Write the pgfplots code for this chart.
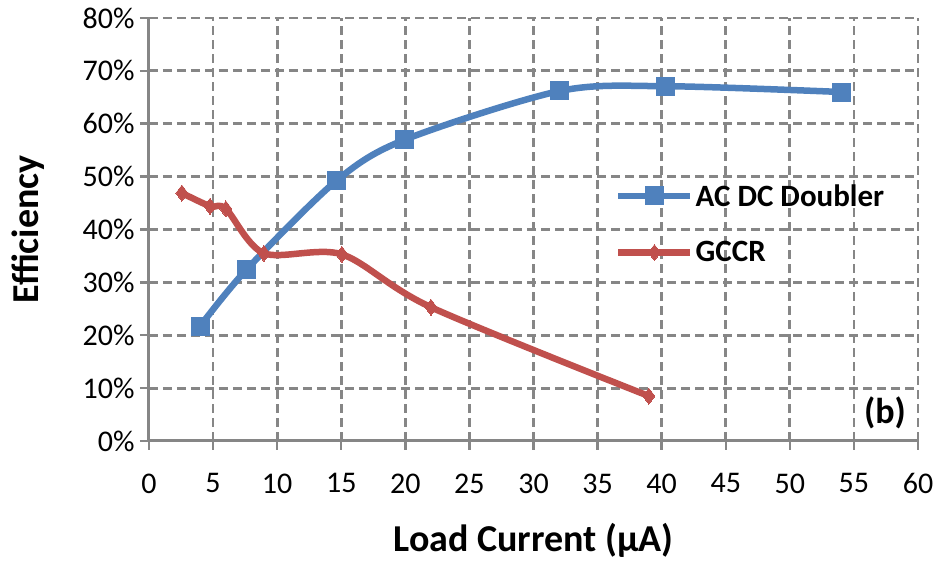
\documentclass[border=0pt]{standalone}
\usepackage{fontspec}
\setmainfont{Carlito}
\usepackage{pgfplots}
\pgfplotsset{compat=1.18}
\definecolor{exblue}{HTML}{4F81BD}
\definecolor{exred}{HTML}{C0504D}
\definecolor{exgray}{HTML}{868686}
\begin{document}
\begin{tikzpicture}
\path[use as bounding box] (-149pt,-126pt) rectangle (794pt,441pt);
\begin{axis}[
  scale only axis,
  width=769pt, height=423pt,
  xmin=0, xmax=60, ymin=0, ymax=80,
  xtick={0,5,...,60}, ytick={0,10,...,80},
  axis x line*=bottom, axis y line*=left,
  axis line style={exgray, line width=3pt, -},
  tick align=outside,
  major tick length=9pt,
  tick style={exgray, line width=2.5pt},
  grid=major,
  major grid style={exgray, line width=2.8pt, dash pattern=on 9pt off 5pt},
  /pgf/number format/assume math mode=true,
  tick label style={font=\fontsize{30}{36}\selectfont},
  xticklabel style={yshift=-20pt},
  yticklabel style={xshift=-2pt},
  yticklabel={\pgfmathprintnumber{\tick}\%},
  xlabel={Load Current (μA)},
  ylabel={Efficiency},
  every axis y label/.style={at={(axis description cs:0,0.5)}, xshift=-121pt, rotate=90, anchor=center, font=\fontsize{38}{44}\selectfont\bfseries},
  every axis x label/.style={at={(axis description cs:0.5,0)}, yshift=-99pt, anchor=center, font=\fontsize{38}{44}\selectfont\bfseries},
  legend style={draw=none, fill=none, at={(rel axis cs:0.606,0.612)}, anchor=north west,
    font=\fontsize{31}{37}\selectfont\bfseries, row sep=30pt, inner sep=0pt,
    /tikz/every even column/.append style={column sep=4pt}},
  legend cell align=left,
  legend image code/.code={\draw[#1, mark repeat=2, mark phase=2] plot coordinates {(0pt,0pt) (36pt,0pt) (72pt,0pt)};},
]
\addplot[exblue, line width=6.5pt, smooth, tension=0.5, mark=square*, mark size=9pt, mark options={solid, line width=0pt}]
coordinates {(3.98,21.7) (7.64,32.5) (14.66,49.3) (19.97,57.0) (32.06,66.2) (40.33,67.1) (54.06,66.0)};
\addlegendentry{AC DC Doubler}
\addplot[exred, line width=6.5pt, smooth, tension=0.5, mark=diamond*, mark size=8pt, mark options={solid, line width=0pt}]
coordinates {(2.57,46.9) (4.76,44.4) (6.0,43.9) (8.97,35.5) (15.05,35.3) (22.0,25.3) (39.0,8.5)};
\addlegendentry{GCCR}
\node[font=\fontsize{36}{42}\selectfont\bfseries] at (rel axis cs:0.957,0.066) {(b)};
\end{axis}
\end{tikzpicture}
\end{document}
